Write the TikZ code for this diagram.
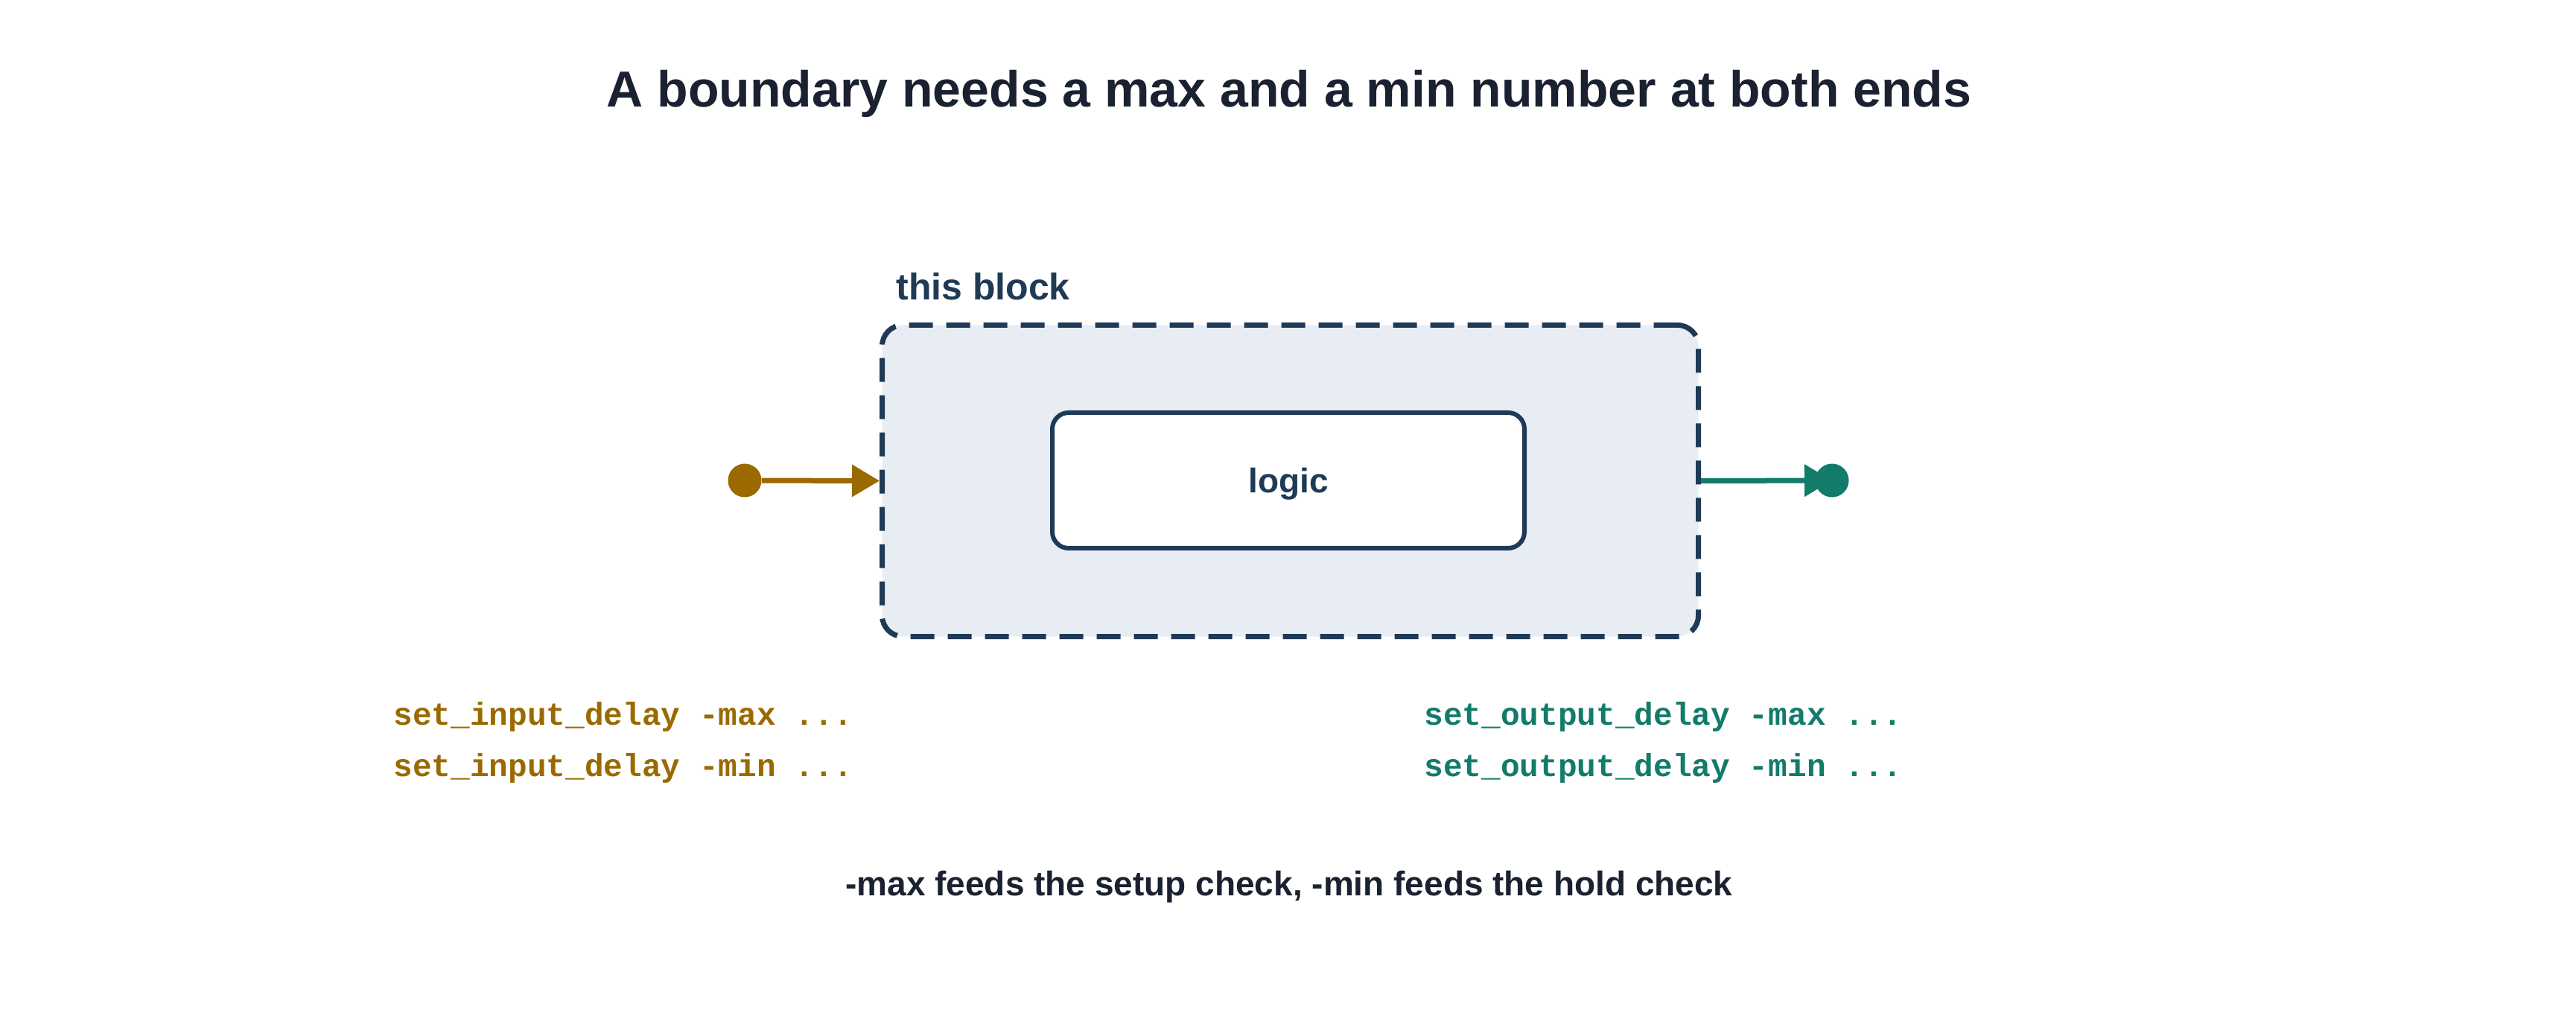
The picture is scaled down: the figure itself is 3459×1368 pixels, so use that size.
\documentclass[tikz,border=0pt]{standalone}
\usepackage{fontspec}
\setmainfont{Liberation Sans}
\newfontfamily\codefont{Liberation Mono}
\usetikzlibrary{arrows.meta}
\usetikzlibrary{positioning}
\definecolor{inkdark}{HTML}{1A2130}
\definecolor{navy}{HTML}{1F3A56}
\definecolor{blockfill}{HTML}{E8EDF4}
\definecolor{ingold}{HTML}{9A6A00}
\definecolor{outteal}{HTML}{127B6A}
\tikzset{
    blockbox/.style={draw=navy,fill=blockfill,line width=3.5pt,dash pattern=on 16pt off 9pt,
        rounded corners=14pt,minimum width=548pt,minimum height=209pt,inner sep=0pt},
    logicbox/.style={draw=navy,fill=white,line width=3pt,rounded corners=11pt,
        minimum width=317pt,minimum height=91pt,inner sep=0pt,text depth=0pt,
        font=\fontsize{23}{28}\selectfont\bfseries,text=navy},
    pin/.style={circle,fill=#1,minimum size=22.5pt,inner sep=0pt},
    wire/.style={#1,line width=3.5pt,-{Triangle[length=18.5pt,width=21pt]}},
    codeline/.style={anchor=base west,inner sep=0pt,text=#1,
        font=\codefont\fontsize{21.4}{26}\selectfont\bfseries},
    caption/.style={inner sep=0pt,text=inkdark,font=\fontsize{23}{28}\selectfont\bfseries}
}
\begin{document}
\begin{tikzpicture}[x=0.5pt,y=-0.5pt]
                        \useasboundingbox (0,0) rectangle (3459,1368);
                        \node[caption,anchor=base,font=\fontsize{34}{40}\selectfont\bfseries] (title) at (1731,144)
                            {A boundary needs a max and a min number at both ends};
                        \node[blockbox] (block) at (1732.5,645.5) {};
                        \node[anchor=base west,inner sep=0pt,text=navy,font=\fontsize{25}{30}\selectfont\bfseries]
                            (blocklabel) at (1203,403) {this block};
                        \node[logicbox] (logic) at (1730,645) {logic};
                        \node[pin=ingold] (inpin) at (1000,645) {};
                        \draw[wire=ingold] (inpin) -- (block.west);
                        \coordinate (outpin) at (2460,645);
                        \draw[wire=outteal] (block.east) -- (outpin);
                        \node[pin=outteal] (outdot) at (outpin) {};
                        \node[codeline=ingold] (inmax) at (528,973) {set\_input\_delay -max ...};
                        \node[codeline=ingold] (inmin) at (528,1042) {set\_input\_delay -min ...};
                        \node[codeline=outteal] (outmax) at (1912,973) {set\_output\_delay -max ...};
                        \node[codeline=outteal] (outmin) at (1912,1042) {set\_output\_delay -min ...};
                        \node[caption,anchor=base] (note) at (1731,1202)
                            {-max feeds the setup check, -min feeds the hold check};
                    \end{tikzpicture}
\end{document}
